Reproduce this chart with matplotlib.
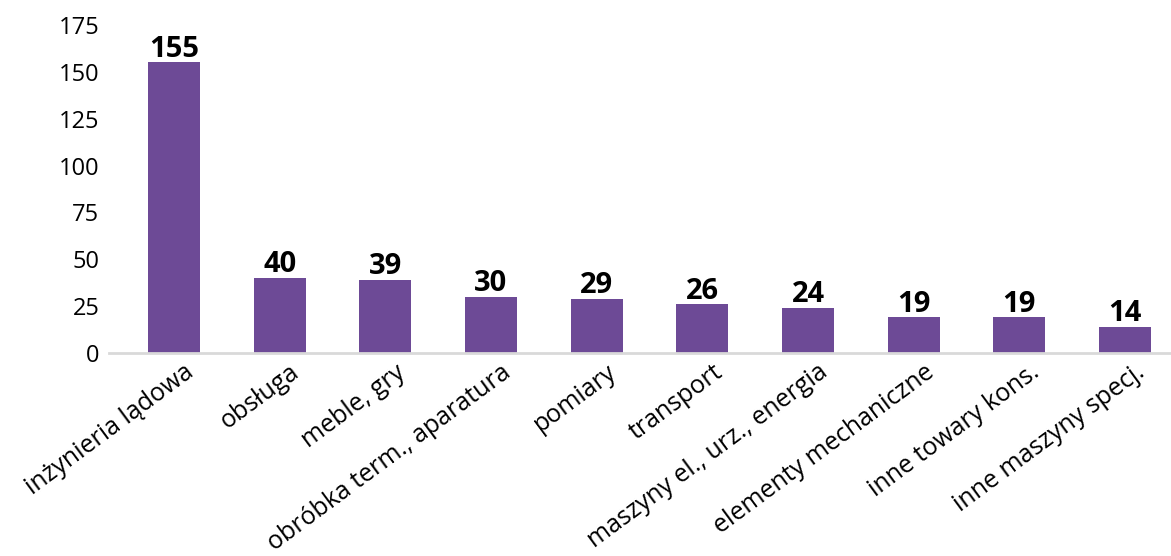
import matplotlib
matplotlib.use("Agg")
import matplotlib.pyplot as plt
import matplotlib.transforms as mtransforms

categories = [
    "inżynieria lądowa", "obsługa", "meble, gry", "obróbka term., aparatura",
    "pomiary", "transport", "maszyny el., urz., energia",
    "elementy mechaniczne", "inne towary kons.", "inne maszyny specj.",
]
values = [155, 40, 39, 30, 29, 26, 24, 19, 19, 14]
yticks = [0, 25, 50, 75, 100, 125, 150, 175]

BAR_COLOR = "#6d4a96"
plt.rcParams["font.family"] = ["Open Sans", "DejaVu Sans"]

W, H = 1171, 556
fig = plt.figure(figsize=(W / 100, H / 100), dpi=100)
left, right, bottom, top = 109, 1171, 353, 25
ax = fig.add_axes([left / W, (H - bottom) / H, (right - left) / W, (bottom - top) / H])

x = list(range(len(categories)))
bars = ax.bar(x, values, width=0.49, color=BAR_COLOR, zorder=2)

ax.set_xlim(-0.615, 9.435)
ax.set_ylim(0, 175)
ax.set_yticks(yticks)
ax.set_yticklabels([str(t) for t in yticks], fontsize=17)
ax.tick_params(axis="y", length=0, pad=7)
ax.tick_params(axis="x", length=0)

for s in ["top", "right", "left"]:
    ax.spines[s].set_visible(False)
ax.spines["bottom"].set_color("#d9d9d9")
ax.spines["bottom"].set_linewidth(2)
ax.spines["bottom"].set_zorder(3)

ax.set_xticks(x)
ax.set_xticklabels(categories, fontsize=18, rotation=36.5, ha="right",
                   va="top", rotation_mode="anchor")
offset = mtransforms.ScaledTranslation(10 / 100, -2 / 100, fig.dpi_scale_trans)
for lbl in ax.get_xticklabels():
    lbl.set_transform(lbl.get_transform() + offset)

for xi, v in zip(x, values):
    ax.annotate(str(v), (xi, v), xytext=(0, -1), textcoords="offset points",
                ha="center", va="bottom", fontsize=21, fontweight="bold",
                color="black")

fig.savefig("out.png", dpi=100)
